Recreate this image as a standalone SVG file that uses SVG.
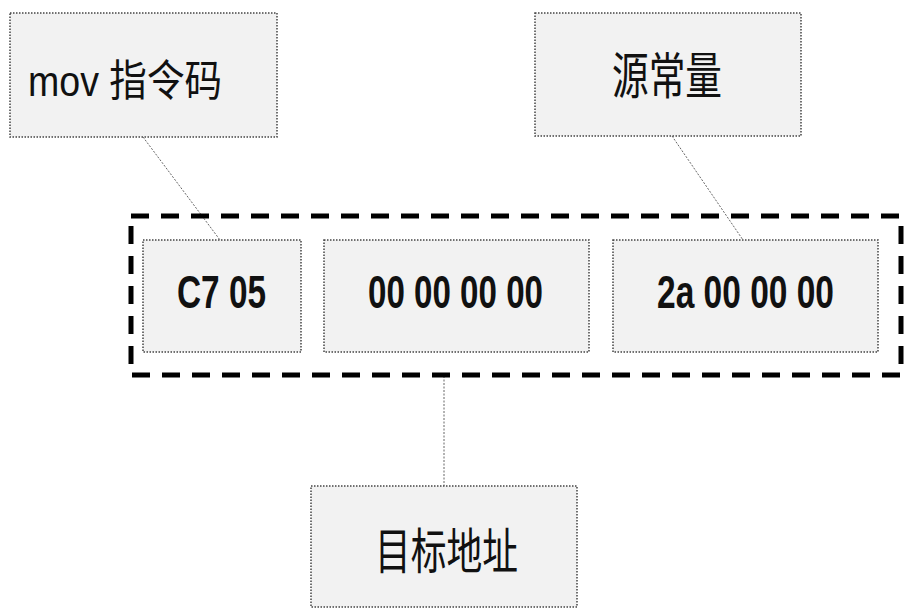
<svg xmlns="http://www.w3.org/2000/svg" width="918" height="614" viewBox="0 0 918 614">
<style>
.box{fill:#f2f2f2;stroke:#444;stroke-width:1.5;stroke-dasharray:1.5 1.5}
.lbl{font-family:"Liberation Sans","Noto Sans CJK SC",sans-serif;fill:#111}
.hex{font-family:"Liberation Sans",sans-serif;font-weight:bold;font-size:46px;fill:#111}
.con{stroke:#666;stroke-width:1;stroke-dasharray:2 1.5;fill:none}
</style>
<rect width="918" height="614" fill="#ffffff"/>
<g id="connectors">
<line class="con" x1="143" y1="137" x2="220" y2="240"/>
<line class="con" x1="672" y1="136" x2="743" y2="240"/>
<line class="con" x1="444" y1="376" x2="444" y2="486" stroke="#333"/>
</g>
<g id="group">
<rect x="131" y="216" width="770" height="159" fill="none" stroke="#000" stroke-width="5" stroke-dasharray="18 12"/>
</g>
<g id="mov">
<rect class="box" x="10" y="13" width="267" height="124"/>
<text class="lbl" x="28" y="96" font-size="43" textLength="194" lengthAdjust="spacingAndGlyphs">mov 指令码</text>
</g>
<g id="src">
<rect class="box" x="535" y="13" width="266" height="123"/>
<text class="lbl" x="612" y="94" font-size="50" textLength="110" lengthAdjust="spacingAndGlyphs">源常量</text>
</g>
<g id="b1">
<rect class="box" x="143" y="240" width="158" height="112"/>
<text class="hex" x="177" y="308" textLength="89" lengthAdjust="spacingAndGlyphs">C7 05</text>
</g>
<g id="b2">
<rect class="box" x="324" y="240" width="265" height="112"/>
<text class="hex" x="368" y="308" textLength="175" lengthAdjust="spacingAndGlyphs">00 00 00 00</text>
</g>
<g id="b3">
<rect class="box" x="613" y="240" width="265" height="112"/>
<text class="hex" x="657" y="308" textLength="177" lengthAdjust="spacingAndGlyphs">2a 00 00 00</text>
</g>
<g id="dst">
<rect class="box" x="311" y="486" width="266" height="121"/>
<text class="lbl" x="375" y="569" font-size="49" textLength="143" lengthAdjust="spacingAndGlyphs">目标地址</text>
</g>
</svg>
